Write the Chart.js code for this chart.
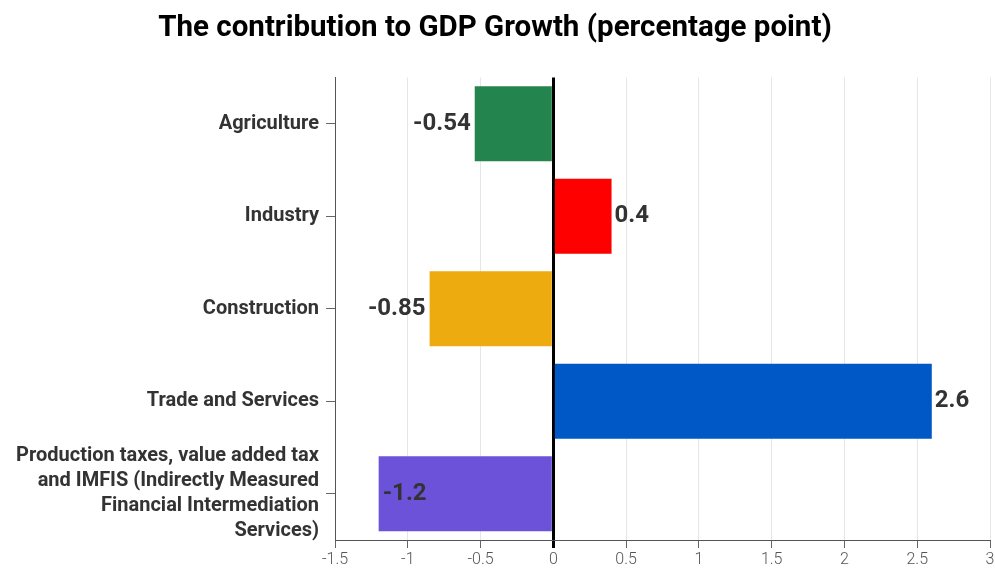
<!DOCTYPE html>
<html>
<head>
<meta charset="utf-8">
<script src="https://cdn.jsdelivr.net/npm/chart.js@4.4.1/dist/chart.umd.min.js"></script>
<style>
  html, body { margin: 0; padding: 0; background: #fff; }
  #wrap { width: 995px; height: 568px; position: relative; }
</style>
</head>
<body>
<div id="wrap"><canvas id="gdpChart"></canvas></div>
<script>
  // Contribution to GDP growth by sector (percentage points)
  const sectors = [
    'Agriculture',
    'Industry',
    'Construction',
    'Trade and Services',
    ['Production taxes, value added tax', 'and IMFIS (Indirectly Measured', 'Financial Intermediation', 'Services)']
  ];
  const contributions = [-0.54, 0.4, -0.85, 2.6, -1.2];
  const barColors = ['#23844d', '#ff0000', '#edab10', '#0058c6', '#6b52d8'];
  const xTicks = [-1.5, -1, -0.5, 0, 0.5, 1, 1.5, 2, 2.5, 3];

  // Value labels at the bar ends; moved inside the bar when there is no room outside
  const barValueLabels = {
    id: 'barValueLabels',
    afterDatasetsDraw(chart) {
      const { ctx, chartArea } = chart;
      const meta = chart.getDatasetMeta(0);
      ctx.save();
      ctx.font = 'bold 24px Roboto';
      ctx.fillStyle = '#333';
      ctx.textBaseline = 'middle';
      meta.data.forEach((bar, i) => {
        const v = contributions[i];
        const text = String(v);
        const w = ctx.measureText(text).width;
        if (v >= 0) {
          ctx.textAlign = 'left';
          ctx.fillText(text, bar.x + 3, bar.y);
        } else if (bar.x - 4 - w > chartArea.left + 20) {
          ctx.textAlign = 'right';
          ctx.fillText(text, bar.x - 4, bar.y);
        } else {
          ctx.textAlign = 'left';
          ctx.fillText(text, bar.x + 4, bar.y);
        }
      });
      ctx.restore();
    }
  };

  new Chart(document.getElementById('gdpChart'), {
    type: 'bar',
    data: {
      labels: sectors,
      datasets: [{
        data: contributions,
        backgroundColor: barColors,
        borderWidth: 0,
        barPercentage: 0.81,
        categoryPercentage: 1
      }]
    },
    options: {
      indexAxis: 'y',
      responsive: true,
      maintainAspectRatio: false,
      animation: false,
      layout: { padding: { left: 0, right: 5, top: 0, bottom: 0 } },
      plugins: {
        legend: { display: false },
        tooltip: { enabled: false },
        title: {
          display: true,
          text: 'The contribution to GDP Growth (percentage point)',
          color: '#000',
          font: { family: 'Roboto', size: 29.5, weight: 'bold', lineHeight: 1.2 },
          padding: { top: 11, bottom: 31 }
        }
      },
      scales: {
        x: {
          type: 'linear',
          min: -1.5,
          max: 3,
          afterBuildTicks(scale) {
            scale.ticks = xTicks.map(v => ({ value: v }));
          },
          afterFit(scale) {
            scale.height = 28;
            scale.paddingRight = 3;
          },
          border: { display: true, color: '#555', width: 1 },
          grid: {
            drawTicks: true,
            tickLength: 8,
            color: ctx => ctx.tick && ctx.tick.value === 0 ? '#000' : '#e6e6e6',
            lineWidth: ctx => ctx.tick && ctx.tick.value === 0 ? 3 : 1,
            tickColor: ctx => ctx.tick && ctx.tick.value === 0 ? '#000' : '#666',
            tickWidth: ctx => ctx.tick && ctx.tick.value === 0 ? 3 : 1
          },
          ticks: {
            padding: 3,
            color: '#555',
            font: { family: 'Roboto', size: 16, weight: '300', lineHeight: 1.1 },
            callback: v => String(v)
          }
        },
        y: {
          afterFit(scale) {
            scale.width = 335;
          },
          border: { display: true, color: '#555', width: 1 },
          grid: {
            offset: false,
            drawOnChartArea: false,
            drawTicks: true,
            tickLength: 9,
            color: '#666'
          },
          ticks: {
            autoSkip: false,
            padding: 7,
            color: '#333',
            font: { family: 'Roboto', size: 20, weight: 'bold', lineHeight: 1.25 }
          }
        }
      }
    },
    plugins: [barValueLabels]
  });
</script>
</body>
</html>
